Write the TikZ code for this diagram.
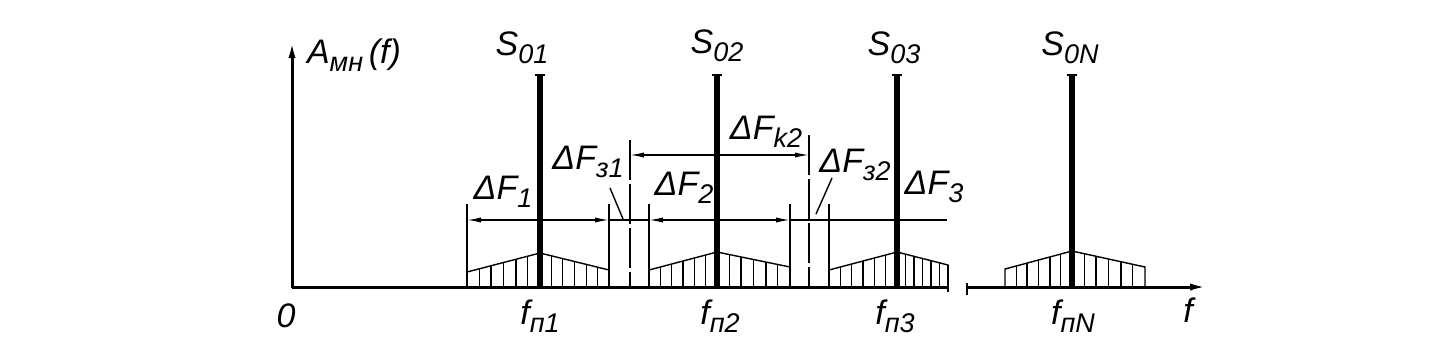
\documentclass[tikz,border=0pt]{standalone}
\usepackage{fontspec}
\setmainfont{Liberation Sans}
\usepackage{tikz}
\usetikzlibrary{arrows.meta,calc}
\newcommand{\yb}{287}
\newcommand{\sbs}[1]{\raisebox{-0.45ex}{\fontsize{13.5}{14}\selectfont #1}}
\newcommand{\sband}[6]{%
  \draw[hatch] (#1,\yb) -- (#1,\yb-#4) -- (#2,\yb-#5) -- (#3,\yb-#6) -- (#3,\yb);
  \foreach \t in {0.17,0.33,0.5,0.67,0.83} {
    \draw[hatch] ($(#1,\yb-#4)!\t!(#2,\yb-#5)$) -- ($(#1,\yb)!\t!(#2,\yb)$);
    \draw[hatch] ($(#2,\yb-#5)!\t!(#3,\yb-#6)$) -- ($(#2,\yb)!\t!(#3,\yb)$);
  }}

\begin{document}
\begin{tikzpicture}[x=0.5pt,y=-0.5pt,
    font=\itshape\fontsize{17}{20}\selectfont,
    axis/.style={line width=1.5pt},
    spec/.style={line width=2.6pt},
    hatch/.style={line width=0.7pt},
    thinl/.style={line width=0.7pt},
    dim/.style={line width=0.7pt,{Latex[length=7pt,width=2.6pt]}-{Latex[length=7pt,width=2.6pt]}}]
  \useasboundingbox (0,0) rectangle (1433,339);
  \draw[axis,-{Latex[length=9pt,width=3.5pt]}] (292,\yb+1) -- (292,40);
  \draw[axis] (292,\yb) -- (948,\yb);
  \draw[axis,-{Latex[length=9pt,width=3.5pt]}] (967,\yb) -- (1208,\yb);
  \draw[thinl] (948,\yb-22) -- (948,\yb+5);
  \draw[thinl] (967,\yb-4) -- (967,\yb+8);
  \sband{467}{540}{609}{15}{34}{17}
  \sband{649}{717}{790}{17}{35}{20}
  \sband{829}{897}{948}{17}{35}{22}
  \sband{1005}{1072}{1145}{18}{36}{20}
  \foreach \x in {540,717,897,1072} {
    \draw[spec] (\x,\yb) -- (\x,75);
    \draw[line width=1pt] (\x-5,75) -- (\x+5,75);
  }
  \foreach \x in {467,609,649,790,829}
    \draw[thinl] (\x,204) -- (\x,\yb);
  \draw[thinl,dash pattern=on 20pt off 2pt] (630,140) -- (630,\yb);
  \draw[thinl,dash pattern=on 20pt off 2pt] (809,135) -- (809,\yb);
  \draw[dim] (467,220) -- (609,220);
  \draw[thinl] (609,220) -- (649,220);
  \draw[dim] (649,220) -- (790,220);
  \draw[thinl] (790,220) -- (829,220);
  \draw[dim,-] (829,220) -- (947,220);
  \draw[dim] (630,155) -- (809,155);
  \draw[thinl] (610,188) -- (623,219);
  \draw[thinl] (832,178) -- (816,214);
  \node[anchor=west] (amn) at (300,55) {A\sbs{мн}\,(f)};
  \node (zero) at (286,316) {0};
  \node (s1) at (522,48) {S\sbs{01}};
  \node (s2) at (717,46) {S\sbs{02}};
  \node (s3) at (894,48) {S\sbs{03}};
  \node (sn) at (1070,48) {S\sbs{0N}};
  \node (fp1) at (540,316) {f\sbs{п1}};
  \node (fp2) at (720,316) {f\sbs{п2}};
  \node (fp3) at (895,316) {f\sbs{п3}};
  \node (fpn) at (1073,316) {f\sbs{пN}};
  \node (fax) at (1188,310) {f};
  \node (df1) at (503,192) {ΔF\sbs{1}};
  \node (dfz1) at (588,162) {ΔF\sbs{з1}};
  \node (df2) at (684,188) {ΔF\sbs{2}};
  \node (dfk2) at (766,132) {ΔF\sbs{k2}};
  \node (dfz2) at (855,165) {ΔF\sbs{з2}};
  \node (df3) at (934,187) {ΔF\sbs{3}};
\end{tikzpicture}
\end{document}
